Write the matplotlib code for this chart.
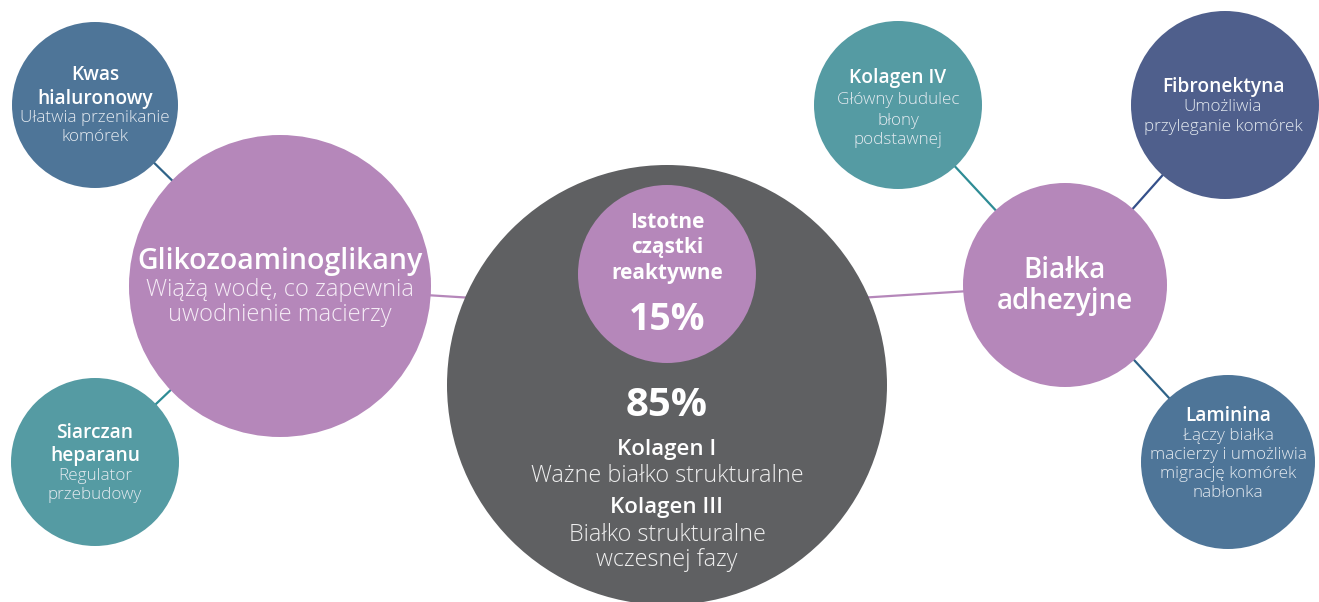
import matplotlib
matplotlib.use("Agg")
import matplotlib.pyplot as plt
from matplotlib.patches import Circle

plt.rcParams['font.family'] = ['Open Sans', 'DejaVu Sans']

# ---- data ----
node_names = ["Kwas hialuronowy", "Glikozoaminoglikany", "Siarczan heparanu",
              "Centrum", "Istotne cząstki reaktywne", "Kolagen IV",
              "Fibronektyna", "Białka adhezyjne", "Laminina"]
node_x = [95, 280, 95, 667, 667, 898, 1225, 1065, 1228]
node_y = [105, 286, 462, 385, 274, 105, 105, 285, 462]
node_r = [83, 151, 84, 220, 89, 84, 94, 102, 87]
node_colors = ["#4E7598", "#B587BA", "#559BA3", "#5F6062", "#B587BA",
               "#559BA3", "#4F5F8C", "#B587BA", "#4E7598"]

# connectors: (from, to, colour)
edge_from = [0, 2, 5, 6, 8, 1, 7]
edge_to = [1, 1, 7, 7, 7, 3, 3]
edge_colors = ["#2F6388", "#2E8C95", "#2E8C95", "#34508A", "#2F6388",
               "#B587BA", "#B587BA"]
hub_point = (667, 310)

# text blocks per node: (text, style)
text_blocks = [
    [("Kwas", "b"), ("hialuronowy", "b"), ("Ułatwia przenikanie", "l"), ("komórek", "l")],
    [("Glikozoaminoglikany", "B"), ("Wiążą wodę, co zapewnia", "L"), ("uwodnienie macierzy", "L")],
    [("Siarczan", "b"), ("heparanu", "b"), ("Regulator", "l"), ("przebudowy", "l")],
    [],
    [("Istotne", "m"), ("cząstki", "m"), ("reaktywne", "m")],
    [("Kolagen IV", "b"), ("Główny budulec", "l"), ("błony", "l"), ("podstawnej", "l")],
    [("Fibronektyna", "b"), ("Umożliwia", "l"), ("przyleganie komórek", "l")],
    [("Białka", "T"), ("adhezyjne", "T")],
    [("Laminina", "b"), ("Łączy białka", "l"), ("macierzy i umożliwia", "l"),
     ("migrację komórek", "l"), ("nabłonka", "l")],
]
text_line_y = [
    [75, 99, 118, 137],
    [262, 290, 315],
    [433, 456, 476, 495],
    [],
    [222, 248, 273],
    [78, 100, 121, 140],
    [87, 107, 127],
    [270, 302],
    [416, 436, 455, 474, 493],
]
text_x = [95, 280, 95, 667, 667, 898, 1223, 1065, 1228]

central_labels = ["15%", "85%", "Kolagen I", "Ważne białko strukturalne",
                  "Kolagen III", "Białko strukturalne", "wczesnej fazy"]
central_styles = ["P", "Q", "k", "K", "k", "K", "K"]
central_y = [320, 405, 450, 476, 508, 535, 560]

styles = {
    "b": dict(fontsize=13.8, fontweight="semibold", color="white"),
    "l": dict(fontsize=12.3, fontweight="light", color="#E4EAF0"),
    "B": dict(fontsize=20.5, fontweight="semibold", color="white"),
    "L": dict(fontsize=17, fontweight="light", color="#F5ECF6"),
    "m": dict(fontsize=15, fontweight="bold", color="white"),
    "T": dict(fontsize=20, fontweight="semibold", color="white"),
    "P": dict(fontsize=27, fontweight="bold", color="white"),
    "Q": dict(fontsize=29, fontweight="bold", color="white"),
    "k": dict(fontsize=16, fontweight="semibold", color="white"),
    "K": dict(fontsize=16.8, fontweight="light", color="#EFEFEF"),
}

# ---- drawing ----
fig = plt.figure(figsize=(13.19, 6.02), dpi=100)
ax = fig.add_axes([0, 0, 1, 1])
ax.set_xlim(0, 1319)
ax.set_ylim(602, 0)
ax.axis("off")

for f, t, c in zip(edge_from, edge_to, edge_colors):
    x1, y1 = node_x[f], node_y[f]
    if t == 3:
        x2, y2 = hub_point
    else:
        x2, y2 = node_x[t], node_y[t]
    ax.plot([x1, x2], [y1, y2], color=c, lw=1.6, zorder=1, solid_capstyle="butt")

for i in range(len(node_names)):
    ax.add_patch(Circle((node_x[i], node_y[i]), node_r[i], facecolor=node_colors[i],
                        edgecolor="none", zorder=2 if i != 4 else 3))

for i, block in enumerate(text_blocks):
    for (txt, st), y in zip(block, text_line_y[i]):
        ax.text(text_x[i], y, txt, ha="center", va="center", zorder=5, **styles[st])

for txt, st, y in zip(central_labels, central_styles, central_y):
    ax.text(667, y, txt, ha="center", va="center", zorder=5, **styles[st])

fig.savefig("out.png", dpi=100, facecolor="white")
